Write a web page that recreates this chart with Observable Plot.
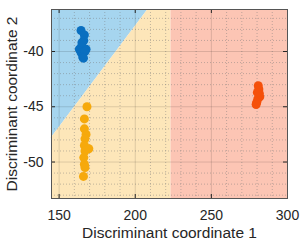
<!DOCTYPE html>
<html><head><meta charset="utf-8">
<script src="https://cdn.jsdelivr.net/npm/d3@7"></script>
<script src="https://cdn.jsdelivr.net/npm/@observablehq/plot@0.6"></script>
<style>body{margin:0;background:#fff} svg{display:block}</style>
</head><body><div id="chart"></div>
<script>
// Axes
const xDomain = [145, 300];
const yDomain = [-53.3, -36.2];
const xTicks = [150, 200, 250, 300];
const yTicks = [-50, -45, -40];
const xMinor = [160, 170, 180, 190, 210, 220, 230, 240, 260, 270, 280, 290];
const yMinor = [-53, -52, -51, -49, -48, -47, -46, -44, -43, -42, -41, -39, -38, -37];

// Decision boundaries
const lineX = [145, 208.4];      // blue / yellow boundary (x)
const lineY = [-47.8, -36.2];    // blue / yellow boundary (y)
const splitX = 223.5;            // yellow / red boundary

// Class samples
const blueX = [164.4, 166.6, 166.2, 164.9, 163.3, 167.7, 164.4, 167.0, 165.5, 166.0, 165.0];
const blueY = [-38.1, -38.5, -39.0, -39.5, -39.8, -39.8, -40.1, -40.0, -40.5, -40.6, -39.2];
const yellowX = [168.3, 166.6, 166.6, 167.7, 167.0, 166.6, 169.5, 167.0, 166.2, 166.6, 167.0, 166.0];
const yellowY = [-45.0, -46.1, -47.0, -47.5, -47.9, -48.5, -48.8, -49.0, -49.6, -50.2, -50.5, -51.3];
const redX = [280.8, 281.2, 281.5, 281.8, 280.5, 279.8, 279.4, 280.2];
const redY = [-43.1, -43.4, -43.8, -44.1, -44.3, -44.6, -44.8, -43.7];

const xLabel = "Discriminant coordinate 1";
const yLabel = "Discriminant coordinate 2";

const [yb, yt] = yDomain;
const blueRegion = [{x: lineX[0], y1: lineY[0], y2: yt}, {x: lineX[1], y1: yt, y2: yt}];
const yellowRegion = [{x: lineX[0], y1: yb, y2: lineY[0]}, {x: lineX[1], y1: yb, y2: yt}, {x: splitX, y1: yb, y2: yt}];
const redRegion = [{x1: splitX, x2: xDomain[1], y1: yb, y2: yt}];
const pts = (X, Y) => X.map((x, i) => ({x, y: Y[i]}));

const W = 302, H = 244, mL = 51, mT = 9, mR = 15, mB = 46;
const pw = W - mL - mR, ph = H - mT - mB;
const ink = "#262626";

const chart = Plot.plot({
  width: W, height: H,
  marginLeft: mL, marginTop: mT, marginRight: mR, marginBottom: mB,
  style: {fontFamily: "'Liberation Sans', Arial, sans-serif", fontSize: "14px", color: ink, background: "#fff"},
  x: {domain: xDomain, label: null},
  y: {domain: yDomain, label: null},
  marks: [
    Plot.areaY(blueRegion, {x: "x", y1: "y1", y2: "y2", fill: "#a6d5ef"}),
    Plot.areaY(yellowRegion, {x: "x", y1: "y1", y2: "y2", fill: "#fde6b9"}),
    Plot.rect(redRegion, {x1: "x1", x2: "x2", y1: "y1", y2: "y2", fill: "#fcc5b4"}),
    Plot.ruleX(xMinor, {x: d => d, stroke: "#777", strokeOpacity: 0.45, strokeDasharray: "1,2"}),
    Plot.ruleY(yMinor, {y: d => d, stroke: "#777", strokeOpacity: 0.45, strokeDasharray: "1,2"}),
    Plot.ruleX(xTicks, {x: d => d, stroke: "#000", strokeOpacity: 0.13}),
    Plot.ruleY(yTicks, {y: d => d, stroke: "#000", strokeOpacity: 0.13}),
    Plot.dot(pts(blueX, blueY), {x: "x", y: "y", r: 4.5, fill: "#0a6fc0"}),
    Plot.dot(pts(yellowX, yellowY), {x: "x", y: "y", r: 4.5, fill: "#f6a90c"}),
    Plot.dot(pts(redX, redY), {x: "x", y: "y", r: 4.5, fill: "#f5500a"}),
    Plot.tickX(xTicks, {x: d => d, insetTop: ph - 4, stroke: ink}),
    Plot.tickX(xTicks, {x: d => d, insetBottom: ph - 4, stroke: ink}),
    Plot.tickY(yTicks, {y: d => d, insetRight: pw - 4, stroke: ink}),
    Plot.tickY(yTicks, {y: d => d, insetLeft: pw - 4, stroke: ink}),
    Plot.frame({stroke: "#555"}),
    Plot.axisX({ticks: xTicks, tickSize: 0, tickPadding: 12, tickFormat: d => String(d), label: null, fill: ink}),
    Plot.axisY({ticks: yTicks, tickSize: 0, tickPadding: 8, tickFormat: d => String(d), label: null, fill: ink}),
    Plot.text([xLabel], {text: d => d, frameAnchor: "bottom", lineAnchor: "middle", textAnchor: "middle", dy: 35, fontSize: 15.5, fill: ink}),
    Plot.text([yLabel], {text: d => d, frameAnchor: "left", lineAnchor: "middle", textAnchor: "middle", dx: -39, rotate: -90, fontSize: 15.5, fill: ink})
  ]
});
document.getElementById("chart").append(chart);
</script>
</body></html>
